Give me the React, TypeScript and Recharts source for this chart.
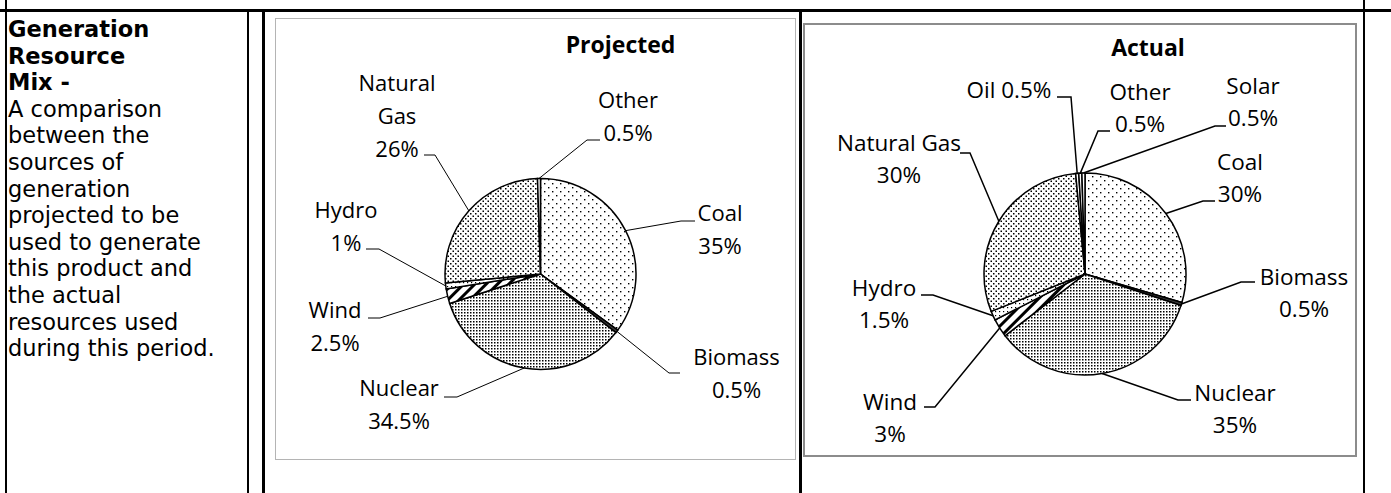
import React from 'react';
import { PieChart, Pie, Cell } from 'recharts';

// ---------- data ----------
const projectedNames = ['Coal', 'Biomass', 'Nuclear', 'Wind', 'Hydro', 'Natural Gas', 'Other'];
const projectedValues = [35, 0.5, 34.5, 2.5, 1, 26, 0.5];

const actualNames = ['Coal', 'Biomass', 'Nuclear', 'Wind', 'Hydro', 'Natural Gas', 'Oil', 'Other', 'Solar'];
const actualValues = [30, 0.5, 35, 3, 1.5, 30, 0.5, 0.5, 0.5];

const sideHeading = ['Generation', 'Resource', 'Mix -'];
const sideText = [
  'A comparison',
  'between the',
  'sources of',
  'generation',
  'projected to be',
  'used to generate',
  'this product and',
  'the actual',
  'resources used',
  'during this period.',
];

// ---------- styling ----------
const FONT = '"Open Sans", "Noto Sans", sans-serif';
const SIDE_FONT = '"DejaVu Sans", sans-serif';

const sliceFill: Record<string, string> = {
  Coal: 'url(#pCoal)',
  Biomass: '#3a3a3a',
  Nuclear: 'url(#pNuclear)',
  Wind: 'url(#pWind)',
  Hydro: 'url(#pHydro)',
  'Natural Gas': 'url(#pGas)',
  Other: '#ffffff',
  Oil: '#ffffff',
  Solar: '#ffffff',
};

type LabelLayout = { text: [number, number]; elbow: [number, number]; end: number; mode: 'stack' | 'words' | 'inline' };

// label placement relative to the pie centre
const projectedLayout: LabelLayout[] = [
  { text: [179.5, -61], elbow: [140.5, -53], end: 154.5, mode: 'stack' },
  { text: [196, 83], elbow: [128.5, 99], end: 139.5, mode: 'stack' },
  { text: [-141.5, 114], elbow: [-83.5, 123], end: -96.5, mode: 'stack' },
  { text: [-205.5, 36], elbow: [-160.5, 44], end: -172.5, mode: 'stack' },
  { text: [-194.5, -64], elbow: [-161.5, -25], end: -174.5, mode: 'stack' },
  { text: [-143.5, -191], elbow: [-105.5, -119], end: -116.5, mode: 'words' },
  { text: [87.5, -174], elbow: [46.5, -134], end: 59.5, mode: 'stack' },
];

const actualLayout: LabelLayout[] = [
  { text: [155, -112], elbow: [118, -73], end: 130, mode: 'stack' },
  { text: [219, 3], elbow: [156, 8], end: 170, mode: 'stack' },
  { text: [150, 119], elbow: [93, 126], end: 106, mode: 'stack' },
  { text: [-195, 128], elbow: [-150, 133], end: -161, mode: 'stack' },
  { text: [-201, 14], elbow: [-152, 21], end: -164, mode: 'stack' },
  { text: [-186, -131], elbow: [-115, -121], end: -125, mode: 'stack' },
  { text: [-76, -184], elbow: [-14, -177], end: -28, mode: 'inline' },
  { text: [55, -182], elbow: [13, -143], end: 25, mode: 'stack' },
  { text: [168, -188], elbow: [130, -148], end: 141, mode: 'stack' },
];

function labelLines(name: string, value: number, mode: string): string[] {
  const pct = `${value}%`;
  if (mode === 'inline') return [`${name} ${pct}`];
  if (mode === 'words') return [...name.split(' '), pct];
  return [name, pct];
}

function makeLabel(layout: LabelLayout[], fontSize: number, lineH: number, lineW: number) {
  return (props: any) => {
    const { cx, cy, midAngle, outerRadius, index, payload } = props;
    const L = layout[index];
    if (!L) return null;
    const rad = Math.PI / 180;
    const sx = cx + outerRadius * Math.cos(-midAngle * rad);
    const sy = cy + outerRadius * Math.sin(-midAngle * rad);
    const ex = cx + L.elbow[0];
    const ey = cy + L.elbow[1];
    const tx = cx + L.end;
    const lines = labelLines(payload.name, payload.value, L.mode);
    const x = cx + L.text[0];
    const y0 = cy + L.text[1] + fontSize * 0.36;
    return (
      <g key={`lbl-${index}`}>
        <path d={`M${sx},${sy}L${ex},${ey}L${tx},${ey}`} fill="none" stroke="#000" strokeWidth={lineW} />
        <text x={x} y={y0} textAnchor="middle" fontFamily={FONT} fontSize={fontSize} fill="#000">
          {lines.map((s, i) => (
            <tspan key={i} x={x} dy={i === 0 ? 0 : lineH}>
              {s}
            </tspan>
          ))}
        </text>
      </g>
    );
  };
}

const projectedData = projectedNames.map((name, i) => ({ name, value: projectedValues[i] }));
const actualData = actualNames.map((name, i) => ({ name, value: actualValues[i] }));

const noMargin = { top: 0, right: 0, bottom: 0, left: 0 };

export default function App() {
  return (
    <div style={{ position: 'absolute', left: 0, top: 0, width: 1391, height: 493, background: '#fff', overflow: 'hidden' }}>
      <svg width={1391} height={493} style={{ position: 'absolute', left: 0, top: 0 }}>
        <defs>
          <pattern id="pCoal" width="8" height="8" patternUnits="userSpaceOnUse">
            <rect width="8" height="8" fill="#fff" />
            <rect x="1" y="1" width="1.4" height="1.4" fill="#000" />
            <rect x="5" y="5" width="1.4" height="1.4" fill="#000" />
          </pattern>
          <pattern id="pGas" width="5" height="5" patternUnits="userSpaceOnUse">
            <rect width="5" height="5" fill="#fff" />
            <rect x="0" y="0" width="1.5" height="1.5" fill="#000" />
            <rect x="2.5" y="2.5" width="1.5" height="1.5" fill="#000" />
          </pattern>
          <pattern id="pNuclear" width="3" height="3" patternUnits="userSpaceOnUse">
            <rect width="3" height="3" fill="#fff" />
            <rect x="0" y="0" width="1.5" height="1.5" fill="#000" />
          </pattern>
          <pattern id="pHydro" width="4" height="4" patternUnits="userSpaceOnUse">
            <rect width="4" height="4" fill="#fff" />
            <rect x="0" y="0" width="1.2" height="1.2" fill="#000" />
          </pattern>
          <pattern id="pWind" width="8" height="8" patternUnits="userSpaceOnUse" patternTransform="rotate(45)">
            <rect width="8" height="8" fill="#fff" />
            <rect x="0" y="0" width="3" height="8" fill="#000" />
          </pattern>
        </defs>

        {/* table rules */}
        <rect x={0} y={9} width={1391} height={3} fill="#000" />
        <rect x={5} y={0} width={2} height={493} fill="#000" />
        <rect x={247} y={12} width={2} height={481} fill="#000" />
        <rect x={262} y={12} width={3} height={481} fill="#000" />
        <rect x={799} y={12} width={3} height={481} fill="#000" />
        <rect x={1363} y={0} width={2} height={493} fill="#000" />

        {/* chart frames */}
        <rect x={275.5} y={18.5} width={520} height={441} fill="none" stroke="#b4b4b4" strokeWidth={1} />
        <rect x={804} y={24} width={552} height={432} fill="none" stroke="#8c8c8c" strokeWidth={2} />

        {/* left column text */}
        <text fontFamily={SIDE_FONT} fontSize={22.5} fill="#000">
          {sideHeading.map((s, i) => (
            <tspan key={`h${i}`} x={8} y={37 + i * 26.6} fontWeight="bold">
              {s}
            </tspan>
          ))}
          {sideText.map((s, i) => (
            <tspan key={`t${i}`} x={8} y={37 + (i + sideHeading.length) * 26.6}>
              {s}
            </tspan>
          ))}
        </text>

        {/* chart titles */}
        <text x={620.5} y={53} textAnchor="middle" fontFamily={FONT} fontSize={23} fontWeight="bold" fill="#000">
          Projected
        </text>
        <text x={1148} y={56} textAnchor="middle" fontFamily={FONT} fontSize={23} fontWeight="bold" fill="#000">
          Actual
        </text>
      </svg>

      <div style={{ position: 'absolute', left: 275, top: 18 }}>
        <PieChart width={521} height={442} margin={noMargin}>
          <Pie
            data={projectedData}
            dataKey="value"
            nameKey="name"
            cx={265.5}
            cy={256}
            outerRadius={95.5}
            startAngle={90}
            endAngle={-270}
            stroke="#000"
            strokeWidth={1.5}
            isAnimationActive={false}
            labelLine={false}
            label={makeLabel(projectedLayout, 22, 33, 1)}
          >
            {projectedData.map((d, i) => (
              <Cell key={i} fill={sliceFill[d.name]} stroke="#000" strokeWidth={1.5} />
            ))}
          </Pie>
        </PieChart>
      </div>

      <div style={{ position: 'absolute', left: 803, top: 23 }}>
        <PieChart width={554} height={434} margin={noMargin}>
          <Pie
            data={actualData}
            dataKey="value"
            nameKey="name"
            cx={282}
            cy={251}
            outerRadius={101}
            startAngle={90}
            endAngle={-270}
            stroke="#000"
            strokeWidth={1.5}
            isAnimationActive={false}
            labelLine={false}
            label={makeLabel(actualLayout, 22.5, 32, 1.5)}
          >
            {actualData.map((d, i) => (
              <Cell key={i} fill={sliceFill[d.name]} stroke="#000" strokeWidth={1.5} />
            ))}
          </Pie>
        </PieChart>
      </div>
    </div>
  );
}
